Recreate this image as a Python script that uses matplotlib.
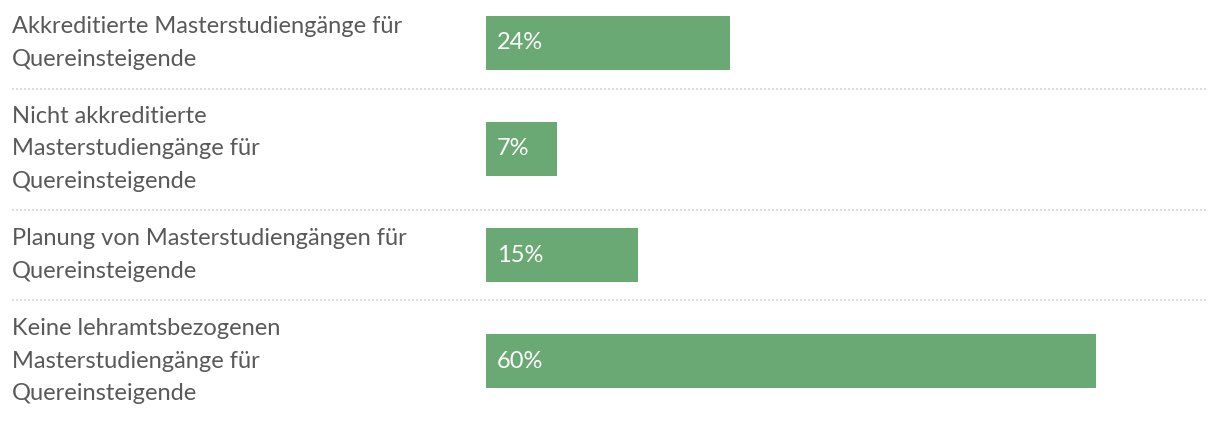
import matplotlib
matplotlib.use("Agg")
import matplotlib.pyplot as plt
import matplotlib.transforms as mtransforms

categories = [
    "Akkreditierte Masterstudiengänge für\nQuereinsteigende",
    "Nicht akkreditierte\nMasterstudiengänge für\nQuereinsteigende",
    "Planung von Masterstudiengängen für\nQuereinsteigende",
    "Keine lehramtsbezogenen\nMasterstudiengänge für\nQuereinsteigende",
]
values = [24, 7, 15, 60]
value_labels = ["24%", "7%", "15%", "60%"]

BAR_COLOR = "#6aa973"
TEXT_COLOR = "#595959"
SEP_COLOR = "#dcdcdc"
FONT = ["Lato", "DejaVu Sans"]
FS = 17

plt.rcParams['font.family'] = FONT

W, H = 1220, 422
fig = plt.figure(figsize=(W / 100, H / 100), dpi=100)
ax = fig.add_axes([12 / W, 0, 1196 / W, 1])

px_per_unit = 10.16
ax.set_xlim(-(486 - 12) / px_per_unit, (1208 - 486) / px_per_unit)
row_px = 106
ax.set_ylim(3 + (H - 361) / row_px, -43 / row_px)

ypos = list(range(len(values)))
ax.barh(ypos, values, height=54 / row_px, color=BAR_COLOR, left=0)

# separators between rows
for sy in [0.434, 1.575, 2.429]:
    ax.axhline(sy, xmin=0, xmax=1, color=SEP_COLOR, linewidth=1.44,
               linestyle=(0, (1, 1)))

trans = mtransforms.blended_transform_factory(ax.transAxes, ax.transData)
for y, lab in zip(ypos, categories):
    ax.text(0, y, lab, transform=trans, ha="left", va="center",
            fontsize=FS, color=TEXT_COLOR, linespacing=1.68)

for y, v, lab in zip(ypos, values, value_labels):
    ax.annotate(lab, xy=(0, y), xytext=(8, 0), textcoords="offset points",
                ha="left", va="center", fontsize=FS, color="white")

ax.axis("off")
fig.savefig("out.png", dpi=100)
